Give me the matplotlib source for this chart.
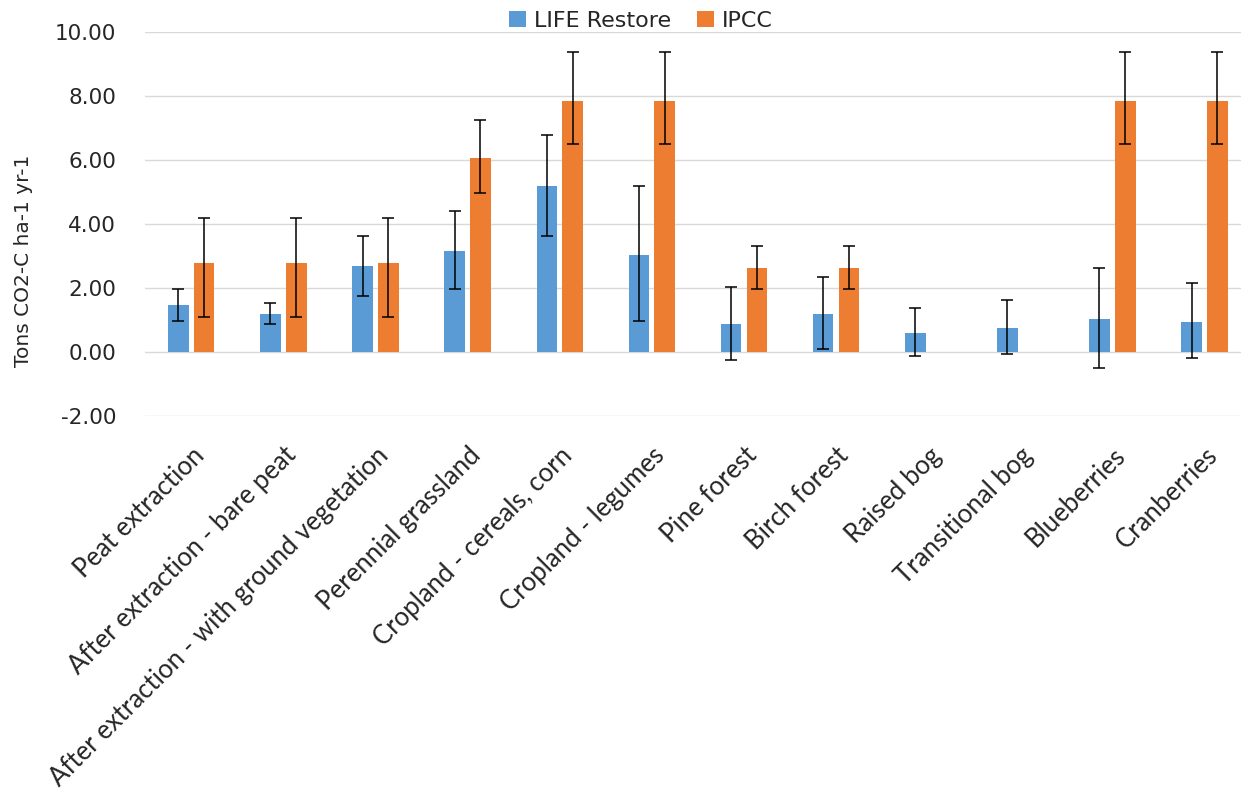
import numpy as np
import matplotlib
matplotlib.use("Agg")
import matplotlib.pyplot as plt
from matplotlib.patches import Patch

categories = [
    "Peat extraction",
    "After extraction - bare peat",
    "After extraction - with ground vegetation",
    "Perennial grassland",
    "Cropland - cereals, corn",
    "Cropland - legumes",
    "Pine forest",
    "Birch forest",
    "Raised bog",
    "Transitional bog",
    "Blueberries",
    "Cranberries",
]

# mean emission and the lower / upper ends of each error bar
life_mean = [1.46, 1.18, 2.68, 3.17, 5.17, 3.04, 0.89, 1.18, 0.61, 0.77, 1.05, 0.94]
life_low = [0.98, 0.87, 1.76, 1.98, 3.61, 0.98, -0.24, 0.10, -0.12, -0.07, -0.48, -0.19]
life_high = [1.98, 1.52, 3.61, 4.39, 6.77, 5.19, 2.04, 2.34, 1.39, 1.63, 2.63, 2.16]

ipcc_mean = [2.78, 2.78, 2.78, 6.05, 7.85, 7.85, 2.62, 2.62, np.nan, np.nan, 7.85, 7.85]
ipcc_low = [1.10, 1.10, 1.10, 4.97, 6.49, 6.49, 1.98, 1.98, np.nan, np.nan, 6.49, 6.49]
ipcc_high = [4.20, 4.20, 4.20, 7.25, 9.36, 9.36, 3.32, 3.32, np.nan, np.nan, 9.36, 9.36]

series = [
    ("LIFE Restore", life_mean, life_low, life_high, "#5B9BD5", -0.14),
    ("IPCC", ipcc_mean, ipcc_low, ipcc_high, "#ED7D31", 0.14),
]

text_color = "#262626"
grid_color = "#D9D9D9"

fig = plt.figure(figsize=(12.41, 7.94), dpi=100)
ax = fig.add_axes([0.117, 0.4757, 0.8907, 0.4844])

x = np.arange(len(categories))
handles = []
for name, mean, low, high, color, offset in series:
    mean = np.asarray(mean, dtype=float)
    low = np.asarray(low, dtype=float)
    high = np.asarray(high, dtype=float)
    ok = ~np.isnan(mean)
    ax.bar(x[ok] + offset, mean[ok], width=0.223, color=color, zorder=2)
    yerr = np.vstack([mean[ok] - low[ok], high[ok] - mean[ok]])
    ax.errorbar(x[ok] + offset, mean[ok], yerr=yerr, fmt="none", ecolor="black",
                elinewidth=1.1, capsize=4.3, capthick=1.1, zorder=3)
    handles.append(Patch(facecolor=color, label=name))

ax.set_xlim(-0.5, len(categories) - 0.5)
ax.set_ylim(-2, 10)
ax.set_yticks(np.arange(-2, 10.1, 2))
ax.set_yticklabels([f"{v:.2f}" for v in np.arange(-2, 10.1, 2)],
                   fontsize=15.5, color=text_color, family="DejaVu Sans")
ax.yaxis.grid(True, color=grid_color, linewidth=1.0, zorder=0)
ax.set_axisbelow(True)
for spine in ax.spines.values():
    spine.set_visible(False)
ax.tick_params(axis="y", length=0, pad=21)
ax.tick_params(axis="x", length=0, pad=19)

ax.set_xticks(x)
ax.set_xticklabels(categories, rotation=45, ha="right", va="top",
                   rotation_mode="anchor", fontsize=18.5, color=text_color,
                   family="Lato")

fig.text(24 / 1241, 1 - 261 / 794, "Tons CO2-C ha-1 yr-1", rotation=90,
         ha="center", va="center", fontsize=14.5, color=text_color,
         family="DejaVu Sans")

fig.legend(handles=handles, loc="center", bbox_to_anchor=(0.5165, 0.974),
           ncol=2, frameon=False, fontsize=16, handlelength=0.75,
           handleheight=0.75, handletextpad=0.35, columnspacing=1.2,
           labelcolor=text_color)

fig.savefig("out.png", dpi=100)
plt.close(fig)
